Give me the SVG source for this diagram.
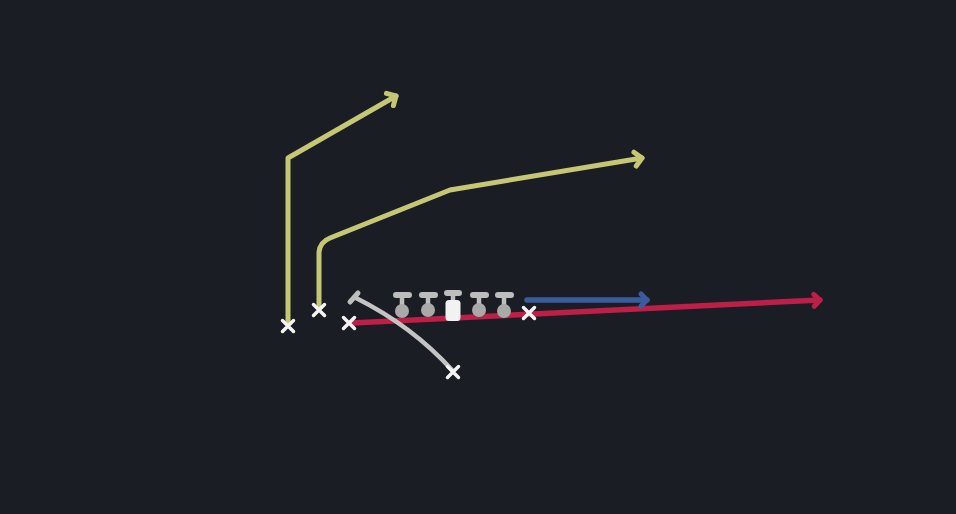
<svg xmlns="http://www.w3.org/2000/svg" width="956" height="514" viewBox="0 0 956 514">
<style>
.route{fill:none;stroke-width:5;stroke-linecap:round;stroke-linejoin:round}
.yel{stroke:#c6c774}
.red{stroke:#bd1f49;stroke-width:5.5}
.blu{stroke:#3b5c9c;stroke-width:5.5}
.gry{stroke:#c4c4c4;stroke-width:4.5}
.x{stroke:#f4f4f4;stroke-width:3.5;stroke-linecap:round}
.bar{stroke:#bdbdbd;stroke-width:6;stroke-linecap:round}
.stem{stroke:#bdbdbd;stroke-width:4.5}
.ol{fill:#a9a9a9}
</style>
<defs>
<marker id="ay" viewBox="-12 -12 24 24" refX="0" refY="0" markerWidth="24" markerHeight="24" orient="auto" markerUnits="userSpaceOnUse"><path d="M-7,-7 L0,0 L-7,7" fill="none" stroke="#c6c774" stroke-width="5" stroke-linecap="round" stroke-linejoin="round"/></marker>
<marker id="ar" viewBox="-12 -12 24 24" refX="0" refY="0" markerWidth="24" markerHeight="24" orient="auto" markerUnits="userSpaceOnUse"><path d="M-6,-6 L0,0 L-6,6" fill="none" stroke="#bd1f49" stroke-width="5" stroke-linecap="round" stroke-linejoin="round"/></marker>
<marker id="ab" viewBox="-12 -12 24 24" refX="0" refY="0" markerWidth="24" markerHeight="24" orient="auto" markerUnits="userSpaceOnUse"><path d="M-6,-6 L0,0 L-6,6" fill="none" stroke="#3b5c9c" stroke-width="5" stroke-linecap="round" stroke-linejoin="round"/></marker>
</defs>
<rect width="956" height="514" fill="#1a1d24"/>
<g id="connectors">
<path class="route red" d="M352,323 L820,300" marker-end="url(#ar)"/>
<path class="route blu" d="M527,300 L647,300" marker-end="url(#ab)"/>
<path class="route yel" d="M288,324 L288,158 L396,96" marker-end="url(#ay)"/>
<path class="route yel" d="M319,307 L319,252 Q320,242 330,238 L450,190 L642,158" marker-end="url(#ay)"/>
<path class="route gry" d="M356,298 Q412,326 452,370"/>
<line class="bar" x1="350" y1="302" x2="358" y2="293" style="stroke-width:5"/>
</g>
<g id="line">
<g id="lt"><line class="bar" x1="396" y1="295" x2="409" y2="295"/><line class="stem" x1="402" y1="295" x2="402" y2="306"/><circle class="ol" cx="402" cy="311" r="7"/></g>
<g id="lg"><line class="bar" x1="422" y1="295" x2="435" y2="295"/><line class="stem" x1="428" y1="295" x2="428" y2="306"/><circle class="ol" cx="428" cy="310" r="7"/></g>
<g id="c"><line class="bar" x1="447" y1="293" x2="459" y2="293"/><line class="stem" x1="453" y1="293" x2="453" y2="302"/><rect x="445.5" y="300" width="15" height="21" rx="3.5" fill="#f2f2f2"/></g>
<g id="rg"><line class="bar" x1="473" y1="295" x2="486" y2="295"/><line class="stem" x1="479" y1="295" x2="479" y2="306"/><circle class="ol" cx="479" cy="310" r="7"/></g>
<g id="rt"><line class="bar" x1="498" y1="295" x2="511" y2="295"/><line class="stem" x1="504" y1="295" x2="504" y2="306"/><circle class="ol" cx="504" cy="311" r="7"/></g>
</g>
<g id="x1"><path class="x" d="M282.5,320.5 L293.5,331.5 M293.5,320.5 L282.5,331.5"/></g>
<g id="x2"><path class="x" d="M313.5,304.5 L324.5,315.5 M324.5,304.5 L313.5,315.5"/></g>
<g id="x3"><path class="x" d="M343.5,317.5 L354.5,328.5 M354.5,317.5 L343.5,328.5"/></g>
<g id="x4"><path class="x" d="M523.5,307.5 L534.5,318.5 M534.5,307.5 L523.5,318.5"/></g>
<g id="x5"><path class="x" d="M447.5,366.5 L458.5,377.5 M458.5,366.5 L447.5,377.5"/></g>
</svg>
